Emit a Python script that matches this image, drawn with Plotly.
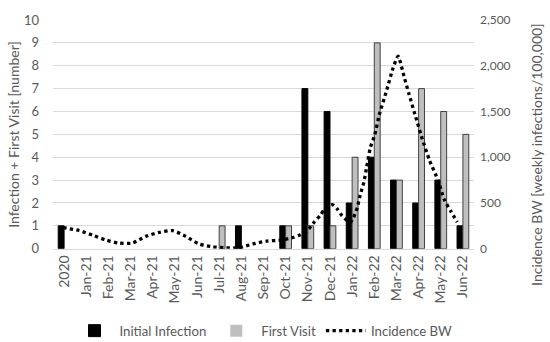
import plotly.graph_objects as go

months = ["2020", "Jan-21", "Feb-21", "Mar-21", "Apr-21", "May-21", "Jun-21", "Jul-21",
          "Aug-21", "Sep-21", "Oct-21", "Nov-21", "Dec-21", "Jan-22", "Feb-22", "Mar-22",
          "Apr-22", "May-22", "Jun-22"]
initial_infection = [1, 0, 0, 0, 0, 0, 0, 0, 1, 0, 1, 7, 6, 2, 4, 3, 2, 3, 1]
first_visit = [0, 0, 0, 0, 0, 0, 0, 1, 0, 0, 1, 1, 1, 4, 9, 3, 7, 6, 5]

incidence_dates = [
    "2020-11-30", "2020-12-22", "2021-01-10", "2021-01-28", "2021-02-14", "2021-03-05",
    "2021-03-23", "2021-04-10", "2021-04-29", "2021-05-17", "2021-06-04", "2021-06-23",
    "2021-07-11", "2021-07-29", "2021-08-17", "2021-09-05", "2021-09-25", "2021-10-12",
    "2021-10-21", "2021-10-30", "2021-11-09", "2021-11-17", "2021-11-23", "2021-12-04",
    "2021-12-11", "2021-12-17", "2021-12-24", "2021-12-29", "2022-01-02", "2022-01-07",
    "2022-01-11", "2022-01-16", "2022-01-20", "2022-01-25", "2022-01-31", "2022-02-06",
    "2022-02-16", "2022-02-25", "2022-03-04", "2022-03-12", "2022-03-19", "2022-03-27",
    "2022-04-06", "2022-04-16", "2022-04-28", "2022-05-06", "2022-05-15", "2022-05-24"]
incidence_bw = [
    230, 198, 146, 94, 62, 62,
    135, 177, 198, 135, 52, 21,
    10, 10, 52, 83, 95, 125,
    153, 194, 291, 361, 430, 482,
    430, 361, 309, 291, 343, 447,
    586, 725, 898, 1106, 1245, 1459,
    1723, 1973, 2104, 1886, 1688, 1470,
    1203, 967, 742, 541, 413, 291]

FONT = "Lato, Carlito, 'Open Sans', sans-serif"
GRAY_TXT = "#595959"

fig = go.Figure()
fig.add_trace(go.Bar(
    x=months, y=initial_infection, name="Initial Infection",
    marker=dict(color="#000000",
                line=dict(color="#000000", width=[1 if v > 0 else 0 for v in initial_infection])),
))
fig.add_trace(go.Bar(
    x=months, y=first_visit, name="First Visit",
    marker=dict(color="#bfbfbf",
                line=dict(color="#404040", width=[1 if v > 0 else 0 for v in first_visit])),
))
fig.add_trace(go.Scatter(
    x=incidence_dates, y=incidence_bw, name="Incidence BW",
    xaxis="x2", yaxis="y2", mode="lines", line_shape="spline",
    line=dict(color="#000000", width=3.3, dash="dot", smoothing=0.6),
))

fig.update_layout(
    width=550, height=342,
    margin=dict(l=53, r=76, t=13, b=89),
    paper_bgcolor="white", plot_bgcolor="white",
    font=dict(family=FONT, size=13, color=GRAY_TXT),
    barmode="group", bargap=0.47, bargroupgap=0,
    showlegend=True,
    legend=dict(orientation="h", x=0.5, xanchor="center", yref="container",
                y=0.032, yanchor="middle",
                font=dict(size=13.2, color=GRAY_TXT), itemwidth=40,
                traceorder="normal"),
    xaxis=dict(type="category", tickangle=-90, showgrid=False, ticks="",
               showline=True, linecolor="#d9d9d9", linewidth=1,
               tickfont=dict(size=14, color=GRAY_TXT), range=[-0.5, 18.5]),
    xaxis2=dict(type="date", overlaying="x", visible=False,
                range=["2020-11-16", "2022-06-16"]),
    yaxis=dict(range=[0, 10], dtick=1, showgrid=True, gridcolor="#d9d9d9", gridwidth=1,
               zeroline=False, ticks="", tickfont=dict(size=13, color=GRAY_TXT),
               ticklabelstandoff=13),
    yaxis2=dict(range=[0, 2500], dtick=500, overlaying="y", side="right", showgrid=False,
                zeroline=False, ticks="", tickformat=",", ticklabelstandoff=5,
                tickfont=dict(size=12, color=GRAY_TXT)),
    annotations=[
        dict(text="Infection + First Visit [number]", textangle=-90, xref="paper", yref="paper",
             x=0.0, xshift=-39.5, y=0.5, showarrow=False, xanchor="center", yanchor="middle",
             font=dict(size=14, color=GRAY_TXT)),
        dict(text="Incidence BW [weekly infections/100,000]", textangle=-90, xref="paper",
             yref="paper", x=1.0, xshift=63, y=0.41, showarrow=False,
             xanchor="center", yanchor="middle", font=dict(size=14, color=GRAY_TXT)),
    ],
)

# remove the browser's default 8px body margin so the figure fills the window exactly
fig.write_html("out.html", config={"displayModeBar": False},
               post_script="document.body.style.margin='0px';")
